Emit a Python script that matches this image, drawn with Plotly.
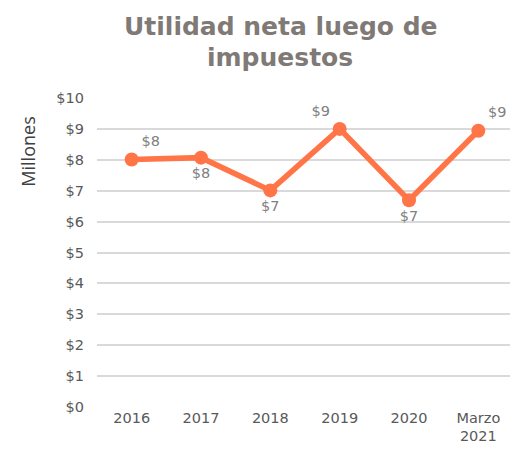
import plotly.graph_objects as go

categories = ["2016", "2017", "2018", "2019", "2020", "Marzo<br>2021"]
values = [8.01, 8.07, 7.01, 9.0, 6.69, 8.94]
labels = ["$8", "$8", "$7", "$9", "$7", "$9"]
label_pos = ["top right", "bottom center", "bottom center", "top left", "bottom center", "top right"]
y_ticks = list(range(0, 11))
y_tick_text = ["$" + str(v) for v in y_ticks]
title_lines = ["<b>Utilidad neta luego de</b>", "<b>impuestos</b>"]

fig = go.Figure()
fig.add_trace(go.Scatter(
    x=categories, y=values,
    mode="lines+markers+text",
    text=labels, textposition=label_pos,
    textfont=dict(family="DejaVu Sans", size=14.5, color="#808080"),
    line=dict(color="#FF7547", width=5.5),
    marker=dict(color="#FF7547", size=14),
    cliponaxis=False,
    showlegend=False,
))

# Page has an 8px body margin; figure sized/positioned to compensate
W, H = 510, 441
L, R, T, B = 89, 5, 90, 40
ph = H - T - B
pw = W - L - R

def px(x):
    return (x - L) / pw

def py(y):
    return (H - B - y) / ph

annotations = [
    dict(text=title_lines[0], x=px(273), y=py(18), xref="paper", yref="paper",
         xanchor="center", yanchor="middle", showarrow=False,
         font=dict(family="DejaVu Sans", size=25, color="#7f7a76")),
    dict(text=title_lines[1], x=px(272), y=py(49), xref="paper", yref="paper",
         xanchor="center", yanchor="middle", showarrow=False,
         font=dict(family="DejaVu Sans", size=25, color="#7f7a76")),
    dict(text="Millones", x=px(20), y=py(144), xref="paper", yref="paper",
         xanchor="center", yanchor="middle", showarrow=False, textangle=-90,
         font=dict(family="Open Sans", size=18, color="#404040")),
]

fig.update_layout(
    width=W, height=H,
    margin=dict(l=L, r=R, t=T, b=B),
    paper_bgcolor="white", plot_bgcolor="white",
    annotations=annotations,
    xaxis=dict(
        type="category", range=[-0.5, 5.5],
        showgrid=False, showline=False, zeroline=False,
        tickfont=dict(family="DejaVu Sans", size=14.5, color="#595959"),
        ticks="",
    ),
    yaxis=dict(
        range=[0, 10], tickmode="array", tickvals=y_ticks, ticktext=y_tick_text,
        showgrid=True, gridcolor="#d9d9d9", gridwidth=2,
        zeroline=False, showline=False,
        tickfont=dict(family="DejaVu Sans", size=14.5, color="#595959"),
        ticks="", ticklabelstandoff=12,
    ),
)

fig.write_html("out.html")
